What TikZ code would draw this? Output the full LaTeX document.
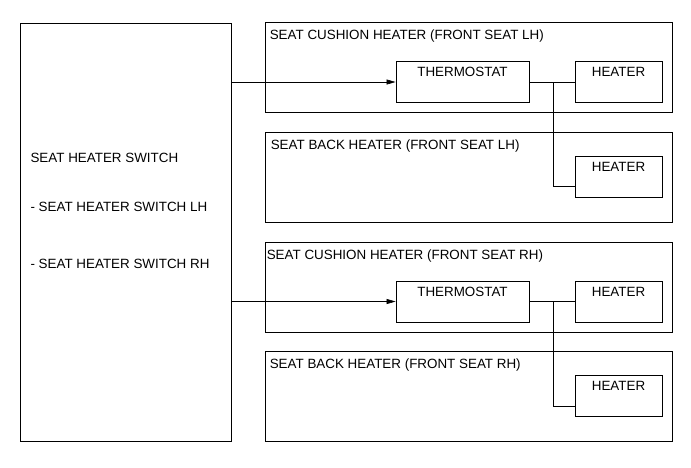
\documentclass[tikz,border=0pt]{standalone}
\usepackage{fontspec}
\setmainfont{Liberation Sans}
\usetikzlibrary{arrows.meta,positioning,calc}

\begin{document}
\begin{tikzpicture}[x=1pt,y=-1pt,
  every node/.style={font=\fontsize{13.4}{15}\selectfont},
  frame/.style={draw,line width=0.8pt,inner sep=0pt},
  group/.style={frame,minimum width=407pt,minimum height=90pt},
  part/.style={draw,line width=0.8pt,inner sep=3pt,text height=12pt,text depth=23pt},
  title/.style={anchor=north west,inner sep=0pt},
  wire/.style={line width=0.6pt}]
  \useasboundingbox (0,0) rectangle (691,467);
  % switch
  \node[frame,minimum width=211pt,minimum height=418pt] (sw) at (125.5,232) {};
  \node[anchor=west] (swt) at (27,158) {SEAT HEATER SWITCH};
  \node[anchor=west] (swl) at (27,207) {- SEAT HEATER SWITCH LH};
  \node[anchor=west] (swr) at (27,264) {- SEAT HEATER SWITCH RH};
  % front seat LH
  \node[group] (cl) at (468.5,67.5) {};
  \node[title] (clt) at ($(cl.north west)+(5,7)$) {SEAT CUSHION HEATER (FRONT SEAT LH)};
  \node[group] (bl) at (468.5,177.5) {};
  \node[title] (blt) at ($(bl.north west)+(6,7)$) {SEAT BACK HEATER (FRONT SEAT LH)};
  \node[part,minimum width=133pt] (thl) at (462.5,82) {THERMOSTAT};
  \node[part,minimum width=87pt] (hcl) at (618.5,82) {HEATER};
  \node[part,minimum width=87pt] (hbl) at (618.5,176.5) {HEATER};
  % front seat RH
  \node[group] (cr) at (468.5,287.5) {};
  \node[title] (crt) at ($(cr.north west)+(2,7)$) {SEAT CUSHION HEATER (FRONT SEAT RH)};
  \node[group] (br) at (468.5,396.5) {};
  \node[title] (brt) at ($(br.north west)+(5,7)$) {SEAT BACK HEATER (FRONT SEAT RH)};
  \node[part,minimum width=133pt] (thr) at (462.5,301.5) {THERMOSTAT};
  \node[part,minimum width=87pt] (hcr) at (618.5,301.5) {HEATER};
  \node[part,minimum width=87pt] (hbr) at (618.5,396) {HEATER};
  % wires
  \coordinate (jl) at (553,82);
  \coordinate (jr) at (553,301.5);
  \draw[wire,-{Triangle[length=9pt,width=5pt]}] (sw.east |- thl.west) -- (thl.west);
  \draw[wire,-{Triangle[length=9pt,width=5pt]}] (sw.east |- thr.west) -- (thr.west);
  \draw[wire] (thl.east) -- (hcl.west);
  \draw[wire] (jl) |- ([yshift=11pt]hbl.south west);
  \draw[wire] (thr.east) -- (hcr.west);
  \draw[wire] (jr) |- ([yshift=11pt]hbr.south west);
\end{tikzpicture}
\end{document}
